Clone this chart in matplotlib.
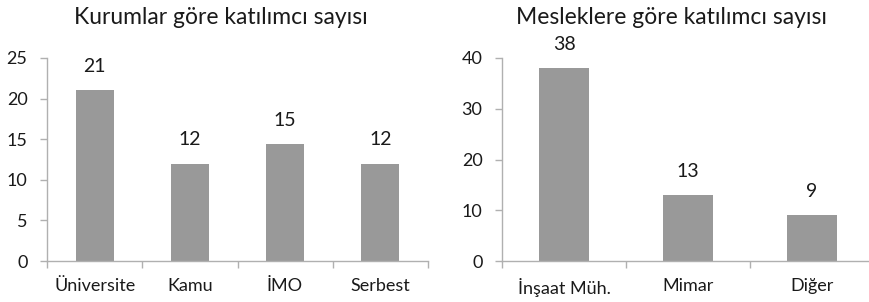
import numpy as np
import matplotlib.pyplot as plt

# Kurumlar
kurum_labels = ['Üniversite', 'Kamu', 'İMO', 'Serbest']
kurum_values = [21, 12, 14.4, 12]
kurum_text = ['21', '12', '15', '12']

# Meslekler
meslek_labels = ['İnşaat Müh.', 'Mimar', 'Diğer']
meslek_values = [38, 13, 9]
meslek_text = ['38', '13', '9']

plt.rcParams['font.family'] = ['Lato', 'DejaVu Sans']

bar_color = '#999999'
axis_color = '#b0b0b0'
text_color = '#1a1a1a'

fig = plt.figure(figsize=(8.69, 3.02), dpi=100)
ax1 = fig.add_axes([47 / 869, 41 / 302, 381 / 869, 203 / 302])
ax2 = fig.add_axes([502 / 869, 41 / 302, 372 / 869, 203 / 302])


def draw(ax, labels, values, texts, ymax, ystep):
    x = np.arange(len(labels))
    ax.bar(x, values, width=0.4, color=bar_color, zorder=2)
    for xi, v, t in zip(x, values, texts):
        ax.annotate(t, (xi, v), xytext=(0, 11), textcoords='offset points',
                    ha='center', va='bottom', fontsize=14, color=text_color)
    ax.set_xlim(-0.5, len(labels) - 0.5)
    ax.set_ylim(0, ymax)
    ax.set_yticks(np.arange(0, ymax + 1, ystep))
    ax.set_xticks(x)
    ax.set_xticklabels(labels)
    ax.set_xticks(np.arange(-0.5, len(labels), 1), minor=True)
    ax.tick_params(axis='x', which='major', length=0, pad=12,
                   labelsize=13, labelcolor=text_color)
    ax.tick_params(axis='x', which='minor', length=5, color=axis_color, width=1)
    ax.tick_params(axis='y', length=5, color=axis_color, width=1, pad=9,
                   labelsize=13, labelcolor=text_color)
    for s in ['top', 'right']:
        ax.spines[s].set_visible(False)
    for s in ['left', 'bottom']:
        ax.spines[s].set_color(axis_color)
        ax.spines[s].set_linewidth(1)
    ax.patch.set_alpha(0)


draw(ax1, kurum_labels, kurum_values, kurum_text, 25, 5)
draw(ax2, meslek_labels, meslek_values, meslek_text, 40, 10)

fig.text(221 / 869, 1 - 17 / 302, 'Kurumlar göre katılımcı sayısı',
         ha='center', va='center', fontsize=16.5, color=text_color)
fig.text(672 / 869, 1 - 17 / 302, 'Mesleklere göre katılımcı sayısı',
         ha='center', va='center', fontsize=16.5, color=text_color)

fig.savefig('out.png', dpi=100)
